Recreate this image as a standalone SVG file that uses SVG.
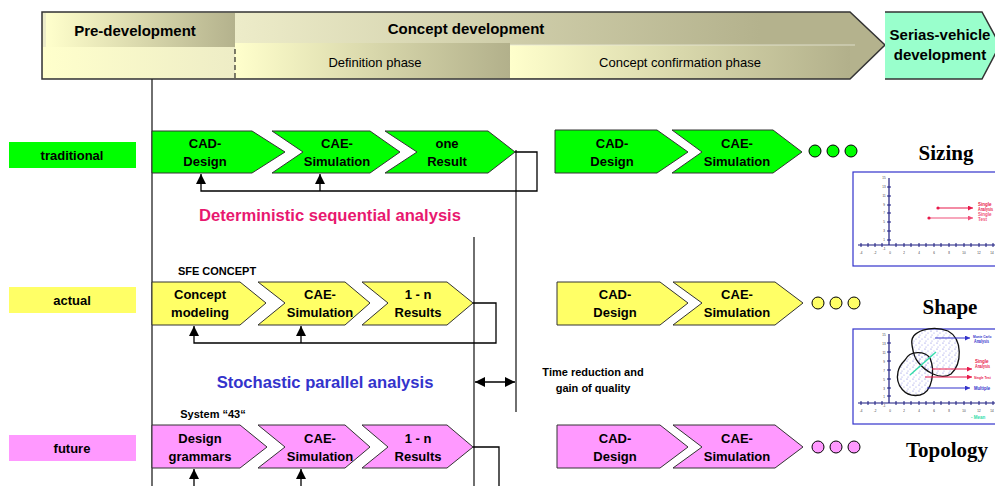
<svg xmlns="http://www.w3.org/2000/svg" width="995" height="486" viewBox="0 0 995 486">
<defs>
<linearGradient id="gPre" gradientUnits="userSpaceOnUse" x1="46" y1="0" x2="235" y2="0"><stop offset="0" stop-color="#FFFFCC"/><stop offset="1" stop-color="#B4B28D"/></linearGradient>
<linearGradient id="gTop" gradientUnits="userSpaceOnUse" x1="235" y1="0" x2="760" y2="0"><stop offset="0" stop-color="#EDECC9"/><stop offset="1" stop-color="#B4B28D"/></linearGradient>
<linearGradient id="gLB" gradientUnits="userSpaceOnUse" x1="43" y1="0" x2="233" y2="0"><stop offset="0" stop-color="#FFFFCC"/><stop offset="1" stop-color="#EEEDC6"/></linearGradient>
<linearGradient id="gDef" gradientUnits="userSpaceOnUse" x1="235" y1="0" x2="510" y2="0"><stop offset="0" stop-color="#FFFFCC"/><stop offset="1" stop-color="#B2B08B"/></linearGradient>
<linearGradient id="gConf" gradientUnits="userSpaceOnUse" x1="510" y1="0" x2="850" y2="0"><stop offset="0" stop-color="#FFFFCC"/><stop offset="1" stop-color="#B2B08B"/></linearGradient>
<marker id="ah" viewBox="0 0 10 10" refX="10" refY="5" markerWidth="10" markerHeight="10" markerUnits="userSpaceOnUse" orient="auto-start-reverse"><path d="M0,0 L10,5 L0,10 Z" fill="#000"/></marker>
<marker id="ahs" viewBox="0 0 10 10" refX="10" refY="5" markerWidth="5" markerHeight="5" markerUnits="userSpaceOnUse" orient="auto"><path d="M0,0 L10,5 L0,10 Z" fill="context-stroke"/></marker>
<pattern id="dots" width="6" height="6" patternUnits="userSpaceOnUse"><circle cx="1" cy="1" r="0.6" fill="#7777DD"/><circle cx="4" cy="3" r="0.6" fill="#9999EE"/><circle cx="2" cy="5" r="0.5" fill="#8888DD"/></pattern>
<style>
.b{font-family:"Liberation Sans",Arial,sans-serif;font-weight:bold;text-anchor:middle;fill:#000}
.n{font-family:"Liberation Sans",Arial,sans-serif;text-anchor:middle;fill:#000}
.t{font-family:"Liberation Serif","Times New Roman",serif;font-weight:bold;text-anchor:middle;fill:#000;font-size:21px}
.cb{font-size:13px}
.g{fill:#00FF00;stroke:#333;stroke-width:1}
.y{fill:#FFFF66;stroke:#333;stroke-width:1}
.p{fill:#FF99FF;stroke:#333;stroke-width:1}
.ln{fill:none;stroke:#000;stroke-width:1.3}
.ax{stroke:#1A1A80;stroke-width:1.2;fill:none}
.tk{font-family:"Liberation Sans",Arial,sans-serif;font-size:3px;fill:#333;text-anchor:middle}
.sl{font-family:"Liberation Sans",Arial,sans-serif;font-size:4.5px;font-weight:bold}
.ss{font-family:"Liberation Sans",Arial,sans-serif;font-size:3.2px;font-weight:bold}
</style>
</defs>
<rect width="995" height="486" fill="#fff"/>

<g id="header">
<polygon points="42,12 850,12 885,45 850,79 42,79" fill="url(#gTop)"/>
<rect x="46" y="13" width="189" height="34" fill="url(#gPre)"/>
<rect x="43" y="47" width="190" height="31" fill="url(#gLB)"/>
<rect x="235" y="43" width="275" height="35" fill="url(#gDef)"/>
<rect x="510" y="45" width="340" height="33" fill="url(#gConf)"/>
<line x1="510" y1="45" x2="855" y2="45" stroke="#E8E8D8" stroke-width="0.8"/>
<line x1="235" y1="49" x2="235" y2="78" stroke="#000" stroke-width="1" stroke-dasharray="5,3"/>
<polygon points="42,12 850,12 885,45 850,79 42,79" fill="none" stroke="#333" stroke-width="1.5"/>
<polygon points="885,12 982,12 1000,45 982,79 885,79" fill="#99FFCC"/>
<polyline points="885,12 982,12 1000,45 982,79 885,79" fill="none" stroke="#333" stroke-width="1.5"/>
<text class="b" x="135" y="36" font-size="15">Pre-development</text>
<text class="b" x="466" y="34" font-size="15">Concept development</text>
<text class="n" x="375" y="67" font-size="13">Definition phase</text>
<text class="n" x="680" y="67" font-size="13">Concept confirmation phase</text>
<text class="b" x="940" y="40" font-size="15">Serias-vehicle</text>
<text class="b" x="940" y="60" font-size="15">development</text>
</g>

<g id="connectors">
<line x1="152" y1="79" x2="152" y2="486" stroke="#222" stroke-width="1.3"/>
<line x1="474" y1="237" x2="474" y2="486" stroke="#222" stroke-width="1.3"/>
<line x1="516" y1="150" x2="516" y2="412" stroke="#222" stroke-width="1.3"/>
<line x1="475" y1="382" x2="515" y2="382" stroke="#000" stroke-width="1.5" marker-start="url(#ah)" marker-end="url(#ah)"/>
<polyline class="ln" points="515,152 537,152 537,191 201,191 201,174" marker-end="url(#ah)"/>
<polyline class="ln" points="320,191 320,174" marker-end="url(#ah)"/>
<polyline class="ln" points="473,303 496,303 496,343 194,343 194,326" marker-end="url(#ah)"/>
<polyline class="ln" points="301,343 301,326" marker-end="url(#ah)"/>
<polyline class="ln" points="473,447 499,447 499,486"/>
<polyline class="ln" points="194,486 194,469" marker-end="url(#ah)"/>
<polyline class="ln" points="301,486 301,469" marker-end="url(#ah)"/>
</g>

<g id="label-traditional"><rect x="9" y="142" width="127" height="26" fill="#00FF00"/><text class="b" x="72" y="160" font-size="13">traditional</text></g>
<g id="label-actual"><rect x="9" y="287" width="127" height="26" fill="#FFFF66"/><text class="b" x="72" y="305" font-size="13">actual</text></g>
<g id="label-future"><rect x="9" y="435" width="127" height="26" fill="#FF99FF"/><text class="b" x="72" y="453" font-size="13">future</text></g>

<g id="t-cad"><polygon class="g" points="152,131 252,131 285,152 252,173 152,173"/><text class="b cb" x="205" y="148">CAD-</text><text class="b cb" x="205" y="166">Design</text></g>
<g id="t-cae"><polygon class="g" points="272,131 370,131 400,152 370,173 272,173 303,152"/><text class="b cb" x="337" y="148">CAE-</text><text class="b cb" x="337" y="166">Simulation</text></g>
<g id="t-res"><polygon class="g" points="385,131 488,131 515,152 488,173 385,173 417,152"/><text class="b cb" x="447" y="148">one</text><text class="b cb" x="447" y="166">Result</text></g>
<g id="t-cad2"><polygon class="g" points="555,130 657,130 688,152 657,173 555,173"/><text class="b cb" x="612" y="148">CAD-</text><text class="b cb" x="612" y="166">Design</text></g>
<g id="t-cae2"><polygon class="g" points="672,130 773,130 802,152 773,173 672,173 702,152"/><text class="b cb" x="737" y="148">CAE-</text><text class="b cb" x="737" y="166">Simulation</text></g>
<g id="t-dots"><circle cx="815" cy="151" r="6" fill="#00FF00" stroke="#000"/><circle cx="833" cy="151" r="6" fill="#00FF00" stroke="#000"/><circle cx="851" cy="151" r="6" fill="#00FF00" stroke="#000"/></g>
<g id="t-title"><text class="t" x="946" y="160">Sizing</text></g>
<g id="t-caption"><text class="b" x="330" y="221" font-size="16.6" style="fill:#E8186F">Deterministic sequential analysis</text></g>

<g id="chart-sizing">
<rect x="853" y="172" width="150" height="94" fill="#fff" stroke="#3333CC" stroke-width="1.2"/>
<line class="ax" x1="889" y1="178" x2="889" y2="245"/>
<line class="ax" x1="858" y1="245" x2="995" y2="245"/>
<path d="M861,243v4M868,243v4M875,243v4M882,243v4M896,243v4M904,243v4M911,243v4M919,243v4M926,243v4M934,243v4M941,243v4M949,243v4M956,243v4M964,243v4M971,243v4M979,243v4M986,243v4M993,243v4M887,187h4M887,196h4M887,205h4M887,213h4M887,222h4M887,231h4M887,240h4" stroke="#1A1A80" stroke-width="1"/>
<text class="tk" x="861" y="254">-4</text><text class="tk" x="875" y="254">-2</text><text class="tk" x="890" y="254">0</text><text class="tk" x="904" y="254">2</text><text class="tk" x="919" y="254">4</text><text class="tk" x="934" y="254">6</text><text class="tk" x="949" y="254">8</text><text class="tk" x="964" y="254">10</text><text class="tk" x="979" y="254">12</text><text class="tk" x="992" y="254">14</text>
<text class="tk" x="884" y="179">15</text><text class="tk" x="884" y="188">13</text><text class="tk" x="884" y="197">11</text><text class="tk" x="884" y="206">9</text><text class="tk" x="884" y="214">7</text><text class="tk" x="884" y="223">5</text><text class="tk" x="884" y="232">3</text><text class="tk" x="884" y="241">1</text><text class="tk" x="884" y="250">-1</text>
<line x1="938" y1="208" x2="973" y2="208" stroke="#E8194A" stroke-width="1.2" marker-end="url(#ahs)"/><circle cx="938" cy="208" r="1.6" fill="#E8194A"/>
<line x1="929" y1="218" x2="973" y2="218" stroke="#F0507A" stroke-width="1.2" marker-end="url(#ahs)"/><circle cx="929" cy="218" r="1.6" fill="#E8194A"/>
<text class="sl" x="978" y="206" fill="#E8194A">Single</text><text class="sl" x="978" y="211" fill="#E8194A" textLength="15" lengthAdjust="spacingAndGlyphs">Analysis</text>
<text class="sl" x="978" y="216" fill="#F0507A">Single</text><text class="sl" x="978" y="221" fill="#F0507A">Test</text>
</g>

<g id="a-sfe"><text class="b" x="217" y="275" font-size="11">SFE CONCEPT</text></g>
<g id="a-con"><polygon class="y" points="152,282 240,282 266,303 240,325 152,325"/><text class="b cb" x="200" y="299">Concept</text><text class="b cb" x="200" y="317">modeling</text></g>
<g id="a-cae"><polygon class="y" points="258,282 345,282 370,303 345,325 258,325 285,303"/><text class="b cb" x="320" y="299">CAE-</text><text class="b cb" x="320" y="317">Simulation</text></g>
<g id="a-res"><polygon class="y" points="362,282 447,282 473,303 447,325 362,325 388,303"/><text class="b cb" x="418" y="299">1 - n</text><text class="b cb" x="418" y="317">Results</text></g>
<g id="a-cad2"><polygon class="y" points="557,282 660,282 688,303 660,325 557,325"/><text class="b cb" x="615" y="299">CAD-</text><text class="b cb" x="615" y="317">Design</text></g>
<g id="a-cae2"><polygon class="y" points="673,282 775,282 803,303 775,325 673,325 702,303"/><text class="b cb" x="737" y="299">CAE-</text><text class="b cb" x="737" y="317">Simulation</text></g>
<g id="a-dots"><circle cx="818" cy="303" r="6" fill="#FFFF66" stroke="#000"/><circle cx="836" cy="303" r="6" fill="#FFFF66" stroke="#000"/><circle cx="854" cy="303" r="6" fill="#FFFF66" stroke="#000"/></g>
<g id="a-title"><text class="t" x="950" y="314">Shape</text></g>
<g id="a-caption"><text class="b" x="325" y="388" font-size="16.6" style="fill:#3333CC">Stochastic parallel analysis</text></g>
<g id="time-label"><text class="b" x="593" y="376" font-size="11">Time reduction and</text><text class="b" x="593" y="392" font-size="11">gain of quality</text></g>

<g id="chart-shape">
<rect x="853" y="329" width="150" height="95" fill="#fff" stroke="#3333CC" stroke-width="1.2"/>
<path d="M912,345 C909,330 933,325 948,331 C963,339 962,364 951,374 C940,381 925,371 918,362 C913,356 913,350 912,345 Z" fill="url(#dots)" stroke="#111" stroke-width="1.3"/>
<path d="M905,360 C910,350 925,351 930,358 C935,370 933,392 920,395 C905,398 895,385 898,372 C899,366 902,363 905,360 Z" fill="url(#dots)" stroke="#111" stroke-width="1.3"/>
<line class="ax" x1="889" y1="334" x2="889" y2="403"/>
<line class="ax" x1="858" y1="403" x2="995" y2="403"/>
<path d="M861,401v4M868,401v4M875,401v4M882,401v4M896,401v4M904,401v4M911,401v4M919,401v4M926,401v4M934,401v4M941,401v4M949,401v4M956,401v4M964,401v4M971,401v4M979,401v4M986,401v4M993,401v4M887,343h4M887,352h4M887,361h4M887,370h4M887,379h4M887,388h4M887,396h4" stroke="#1A1A80" stroke-width="1"/>
<text class="tk" x="861" y="412">-4</text><text class="tk" x="875" y="412">-2</text><text class="tk" x="890" y="412">0</text><text class="tk" x="904" y="412">2</text><text class="tk" x="919" y="412">4</text><text class="tk" x="934" y="412">6</text><text class="tk" x="949" y="412">8</text><text class="tk" x="964" y="412">10</text><text class="tk" x="979" y="412">12</text><text class="tk" x="992" y="412">14</text>
<text class="tk" x="884" y="336">15</text><text class="tk" x="884" y="345">13</text><text class="tk" x="884" y="354">11</text><text class="tk" x="884" y="363">9</text><text class="tk" x="884" y="372">7</text><text class="tk" x="884" y="381">5</text><text class="tk" x="884" y="390">3</text><text class="tk" x="884" y="398">1</text><text class="tk" x="884" y="407">-1</text>
<line x1="910" y1="375" x2="936" y2="352" stroke="#33DDAA" stroke-width="1.4"/>
<line x1="935" y1="338" x2="970" y2="338" stroke="#3333CC" stroke-width="1.2" marker-end="url(#ahs)"/>
<line x1="932" y1="369" x2="972" y2="369" stroke="#E8194A" stroke-width="1.2" marker-end="url(#ahs)"/>
<line x1="925" y1="377" x2="972" y2="377" stroke="#E8194A" stroke-width="1.2" marker-end="url(#ahs)"/>
<line x1="927" y1="388" x2="970" y2="388" stroke="#3333CC" stroke-width="1.2" marker-end="url(#ahs)"/>
<text class="ss" x="973" y="338" fill="#3333CC">Monte Carlo</text><text class="sl" x="974" y="343" fill="#3333CC" textLength="15" lengthAdjust="spacingAndGlyphs">Analysis</text>
<text class="sl" x="975" y="363" fill="#E8194A">Single</text><text class="sl" x="975" y="368" fill="#E8194A" textLength="15" lengthAdjust="spacingAndGlyphs">Analysis</text>
<text class="ss" x="974" y="379" fill="#E8194A">Single Test</text>
<text class="sl" x="974" y="390" fill="#3333CC" textLength="16" lengthAdjust="spacingAndGlyphs">Multiple</text>
<text class="sl" x="971" y="419" fill="#33DDAA">- Mean</text>
</g>

<g id="f-sys"><text class="b" x="213" y="418" font-size="11">System “43“</text></g>
<g id="f-des"><polygon class="p" points="152,425 240,425 267,447 240,468 152,468"/><text class="b cb" x="200" y="443">Design</text><text class="b cb" x="200" y="461">grammars</text></g>
<g id="f-cae"><polygon class="p" points="258,425 345,425 370,447 345,468 258,468 285,447"/><text class="b cb" x="320" y="443">CAE-</text><text class="b cb" x="320" y="461">Simulation</text></g>
<g id="f-res"><polygon class="p" points="362,425 447,425 473,447 447,468 362,468 388,447"/><text class="b cb" x="418" y="443">1 - n</text><text class="b cb" x="418" y="461">Results</text></g>
<g id="f-cad2"><polygon class="p" points="557,425 660,425 688,447 660,468 557,468"/><text class="b cb" x="615" y="443">CAD-</text><text class="b cb" x="615" y="461">Design</text></g>
<g id="f-cae2"><polygon class="p" points="673,425 775,425 803,447 775,468 673,468 702,447"/><text class="b cb" x="737" y="443">CAE-</text><text class="b cb" x="737" y="461">Simulation</text></g>
<g id="f-dots"><circle cx="818" cy="447" r="6" fill="#FF99FF" stroke="#000"/><circle cx="836" cy="447" r="6" fill="#FF99FF" stroke="#000"/><circle cx="854" cy="447" r="6" fill="#FF99FF" stroke="#000"/></g>
<g id="f-title"><text class="t" x="947" y="457">Topology</text></g>
</svg>
